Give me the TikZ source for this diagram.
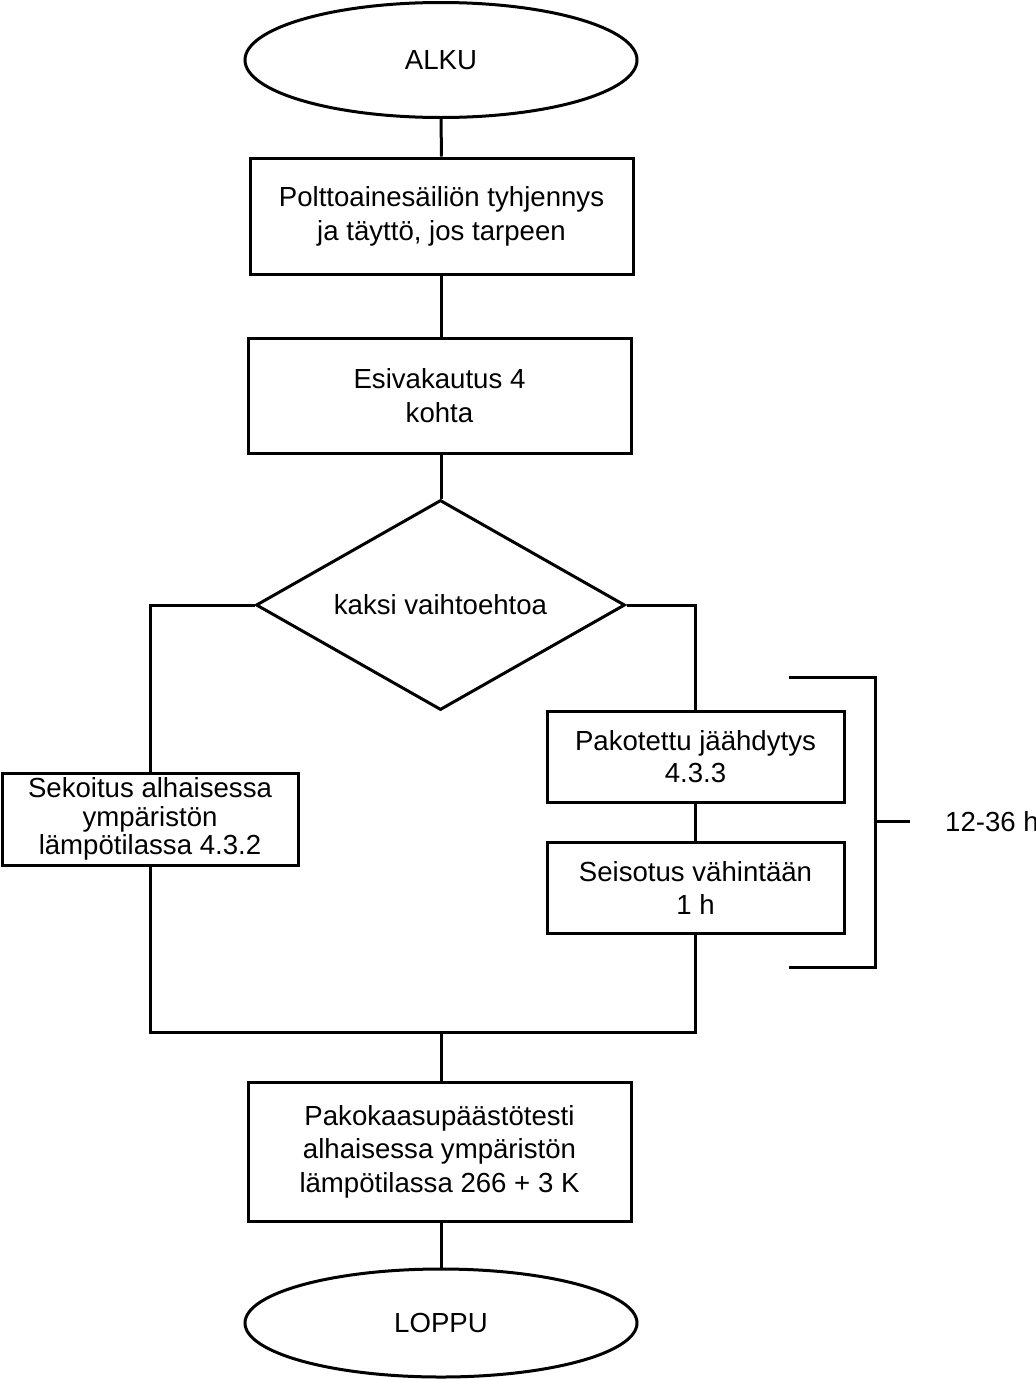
\documentclass[tikz,border=0pt]{standalone}
\usepackage{fontspec}
\setmainfont{Liberation Sans}
\usetikzlibrary{shapes.geometric}
\begin{document}
\begin{tikzpicture}[x=1pt,y=-1pt,
  every node/.style={font=\fontsize{27.6}{34}\selectfont},
  ln/.style={line width=3pt},
  terminal/.style={ellipse,draw,line width=3pt,minimum width=392pt,inner sep=0pt},
  box/.style={rectangle,draw,line width=3pt,inner sep=0pt,align=center},
  decision/.style={diamond,draw,line width=3pt,inner sep=0pt,aspect=1.757,minimum width=369pt,minimum height=210pt}]
\useasboundingbox (0,0) rectangle (1036,1379);
\node[terminal,minimum height=115pt] (alku) at (441,60) {ALKU};
\node[box,minimum width=383pt,minimum height=116pt] (b1) at (441.5,216) {Polttoainesäiliön tyhjennys\\ja täyttö, jos tarpeen};
\node[box,minimum width=383pt,minimum height=115pt] (b2) at (439.5,395.5) {Esivakautus 4\\kohta};
\node[decision] (dia) at (440.5,605) {kaksi vaihtoehtoa};
\node[box,minimum width=296pt,minimum height=92pt,font=\fontsize{27.6}{28.5}\selectfont] (sek) at (150,819) {Sekoitus alhaisessa\\ympäristön\\lämpötilassa 4.3.2};
\node[box,minimum width=297pt,minimum height=91pt,font=\fontsize{27.6}{32}\selectfont] (pak) at (695.5,756.5) {Pakotettu jäähdytys\\4.3.3};
\node[box,minimum width=297pt,minimum height=91pt,font=\fontsize{27.6}{33}\selectfont] (seis) at (695.5,887.5) {Seisotus vähintään\\1 h};
\node[box,minimum width=383pt,minimum height=139pt,font=\fontsize{27.6}{33.5}\selectfont] (fin) at (439.5,1151.5) {Pakokaasupäästötesti\\alhaisessa ympäristön\\lämpötilassa 266 + 3 K};
\node[terminal,minimum height=108pt] (loppu) at (441,1323) {LOPPU};
\node[anchor=west,inner sep=0pt] (lab) at (945,822) {12-36 h};
\coordinate (m) at (441,1032);
\coordinate (bt1) at (789,677);
\coordinate (bt2) at (875,677);
\coordinate (bt3) at (875,967);
\coordinate (bt4) at (789,967);
\coordinate (tk1) at (875,821);
\coordinate (tk2) at (910,821);
\draw[ln] (alku.south) -- (b1.north);
\draw[ln] (b1.south -| alku.south) -- (b2.north -| alku.south);
\draw[ln] (b2.south -| alku.south) -- (dia.north -| alku.south);
\draw[ln] (dia.west) -| (sek.north);
\draw[ln] (dia.east) -| (pak.north);
\draw[ln] (pak.south) -- (seis.north);
\draw[ln] (sek.south) |- (m) -| (seis.south);
\draw[ln] (m) -- (fin.north -| m);
\draw[ln] (fin.south -| m) -- (loppu.north);
\draw[ln] (bt1) -- (bt2) -- (bt3) -- (bt4);
\draw[ln] (tk1) -- (tk2);
\end{tikzpicture}
\end{document}
